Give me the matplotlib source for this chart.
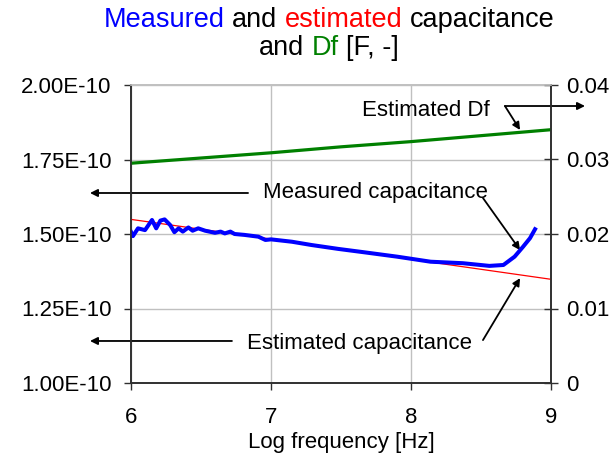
import numpy as np
import matplotlib
matplotlib.use("Agg")
import matplotlib.pyplot as plt
from matplotlib.ticker import FixedLocator, FuncFormatter
from matplotlib.offsetbox import TextArea, HPacker, VPacker, AnchoredOffsetbox

plt.rcParams['font.family'] = ['Liberation Sans', 'DejaVu Sans']

# measured capacitance [F] vs log10 frequency
logf_meas = [6.00, 6.014, 6.05, 6.10, 6.15, 6.18, 6.21, 6.24, 6.28, 6.31, 6.34, 6.37,
             6.41, 6.44, 6.48, 6.53, 6.56, 6.60, 6.64, 6.67, 6.71, 6.74, 6.81, 6.91,
             6.96, 7.00, 7.15, 7.29, 7.48, 7.66, 7.90, 8.14, 8.37, 8.56, 8.66, 8.74,
             8.80, 8.85, 8.886]
cap_meas = [1.507, 1.493, 1.519, 1.513, 1.547, 1.519, 1.545, 1.549, 1.530, 1.506, 1.519, 1.508,
            1.522, 1.511, 1.519, 1.511, 1.508, 1.504, 1.508, 1.502, 1.508, 1.500, 1.497, 1.491,
            1.480, 1.482, 1.474, 1.463, 1.450, 1.439, 1.424, 1.407, 1.402, 1.393, 1.396, 1.424,
            1.457, 1.486, 1.516]
cap_meas = np.array(cap_meas) * 1e-10

# estimated capacitance [F]
logf_est = [6.0, 7.0, 8.0, 9.0]
cap_est = np.array([1.549, 1.483, 1.415, 1.348]) * 1e-10

# estimated dissipation factor [-]
logf_df = [6.0, 6.5, 7.0, 7.5, 8.0, 8.5, 9.0]
df_est = [0.0295, 0.0302, 0.0309, 0.0317, 0.0324, 0.0332, 0.0340]

cap_ticks = [1.00e-10, 1.25e-10, 1.50e-10, 1.75e-10, 2.00e-10]
df_ticks = [0, 0.01, 0.02, 0.03, 0.04]
x_ticks = [6, 7, 8, 9]

fig = plt.figure(figsize=(6.16, 4.59), dpi=100)
ax = fig.add_axes([131/616, 1 - 383/459, 420/616, 298/459])
ax2 = ax.twinx()

ax.plot(logf_est, cap_est, color='red', lw=0.9, zorder=3)
ax.plot(logf_meas, cap_meas, color='blue', lw=2.9, zorder=4, solid_joinstyle='round')
ax2.plot(logf_df, df_est, color='green', lw=2.3)

ax.set_xlim(6, 9)
ax.set_ylim(1e-10, 2e-10)
ax2.set_ylim(0, 0.04)
ax.xaxis.set_major_locator(FixedLocator(x_ticks))
ax.yaxis.set_major_locator(FixedLocator(cap_ticks))
ax2.yaxis.set_major_locator(FixedLocator(df_ticks))
ax.yaxis.set_major_formatter(FuncFormatter(lambda v, p: '%.2E' % v))
ax2.yaxis.set_major_formatter(FuncFormatter(lambda v, p: '%g' % v))

ax.grid(True, color='#c0c0c0', lw=1)
ax.set_axisbelow(True)

spine_col = '#303030'
for a in (ax, ax2):
    a.spines['top'].set_color('#c0c0c0')
    a.spines['left'].set_color(spine_col)
    a.spines['right'].set_color(spine_col)
    a.spines['bottom'].set_color(spine_col)
    for s in a.spines.values():
        s.set_linewidth(1.2)

ax.tick_params(axis='y', direction='out', length=5, width=1, pad=9, labelsize=16, color=spine_col)
ax.tick_params(axis='x', direction='out', length=5, width=1, pad=12, labelsize=16, color=spine_col)
ax2.tick_params(axis='y', direction='inout', length=10, width=1, pad=6, labelsize=16, color=spine_col)
ax.set_xlabel('Log frequency [Hz]', fontsize=16, labelpad=3)

# callouts
arrow = dict(arrowstyle='-|>', color='black', lw=1.3, mutation_scale=11, shrinkA=0, shrinkB=0)

ax.text(8.564, 1.916e-10, 'Estimated Df', ha='right', va='center', fontsize=16)
ax.annotate('', xy=(9.243, 1.9295e-10), xytext=(8.671, 1.9295e-10), arrowprops=arrow, annotation_clip=False)
ax.annotate('', xy=(8.779, 1.849e-10), xytext=(8.671, 1.9295e-10), arrowprops=arrow, annotation_clip=False)

ax.text(6.943, 1.6376e-10, 'Measured capacitance', ha='left', va='center', fontsize=16)
ax.annotate('', xy=(5.707, 1.6376e-10), xytext=(6.836, 1.6376e-10), arrowprops=arrow, annotation_clip=False)
ax.annotate('', xy=(8.779, 1.446e-10), xytext=(8.514, 1.6208e-10), arrowprops=arrow, annotation_clip=False)

ax.text(6.829, 1.134e-10, 'Estimated capacitance', ha='left', va='center', fontsize=16)
ax.annotate('', xy=(5.707, 1.141e-10), xytext=(6.721, 1.141e-10), arrowprops=arrow, annotation_clip=False)
ax.annotate('', xy=(8.779, 1.352e-10), xytext=(8.514, 1.144e-10), arrowprops=arrow, annotation_clip=False)

# two-line title with coloured words
def words(parts):
    return HPacker(children=[TextArea(t, textprops=dict(color=c, fontsize=19.5)) for t, c in parts],
                   sep=5.4, pad=0, align='baseline')

line1 = words([('Measured', 'blue'), ('and', 'black'), ('estimated', 'red'), ('capacitance', 'black')])
line2 = words([('and', 'black'), ('Df', 'green'), ('[F, -]', 'black')])
title = VPacker(children=[line1, line2], sep=1, pad=0, align='center')
fig.add_artist(AnchoredOffsetbox(loc='center', child=title, frameon=False, pad=0, borderpad=0,
                                 bbox_to_anchor=(329/616, 1 - 34/459),
                                 bbox_transform=fig.transFigure))

fig.savefig('out.png', dpi=100)
